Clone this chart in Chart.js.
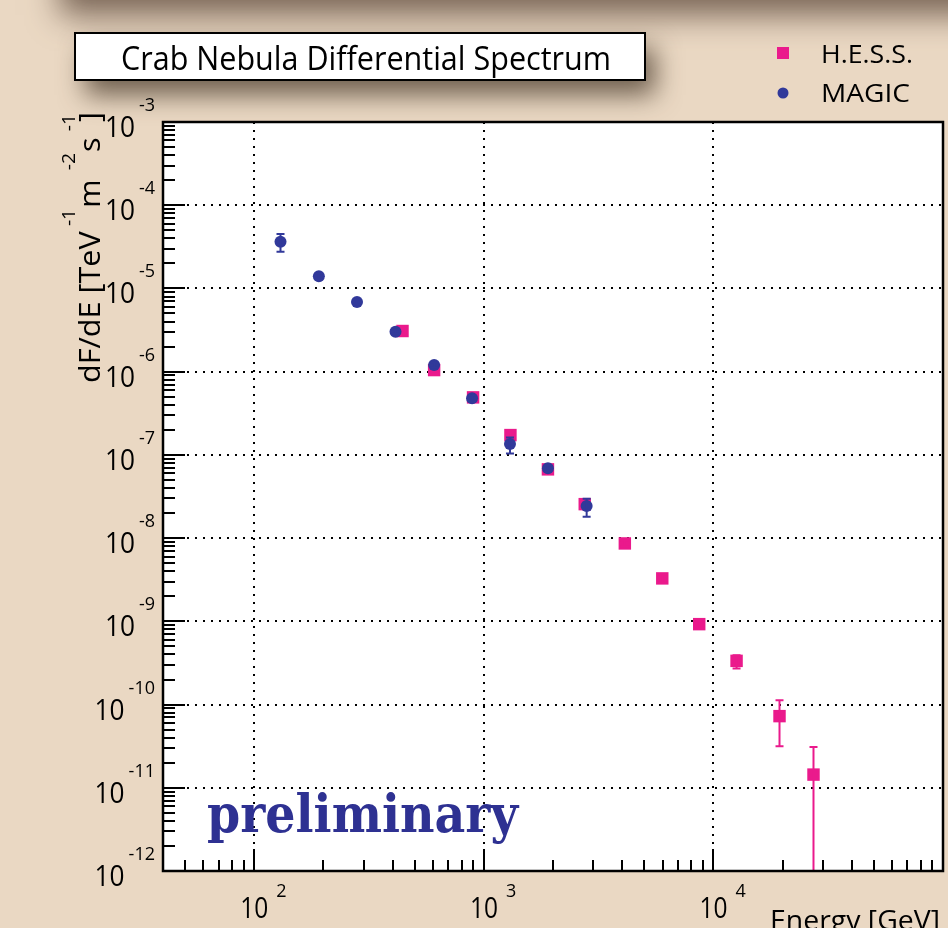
<!DOCTYPE html>
<html lang="en">
<head>
<meta charset="UTF-8">
<title>Crab Nebula Differential Spectrum</title>
<style>
    html, body { margin: 0; padding: 0; background: #ead8c3; }
    canvas { display: block; }
</style>
</head>
<body>
<canvas id="chart" width="948" height="928"></canvas>

<script src="https://cdn.jsdelivr.net/npm/chart.js"></script>
<script>
// H.E.S.S. spectrum points (energy in GeV, flux in TeV^-1 m^-2 s^-1)
const hessEnergy = [442, 607, 897, 1305, 1901, 2750, 4111, 5985, 8670, 12610, 19400, 27280];
const hessFlux   = [3.08e-6, 1.045e-6, 4.91e-7, 1.73e-7, 6.70e-8, 2.56e-8, 8.63e-9, 3.28e-9, 9.25e-10, 3.35e-10, 7.26e-11, 1.44e-11];
const hessLow    = [2.95e-6, 1.00e-6, 4.68e-7, 1.63e-7, 6.25e-8, 2.36e-8, 7.90e-9, 2.95e-9, 8.20e-10, 2.72e-10, 3.16e-11, 1e-14];
const hessHigh   = [3.21e-6, 1.09e-6, 5.14e-7, 1.83e-7, 7.15e-8, 2.76e-8, 9.40e-9, 3.62e-9, 1.03e-9, 3.90e-10, 1.13e-10, 3.10e-11];

// MAGIC spectrum points
const magicEnergy = [130, 191, 280, 412, 607, 888, 1299, 1901, 2803];
const magicFlux   = [3.64e-5, 1.397e-5, 6.86e-6, 3.02e-6, 1.20e-6, 4.78e-7, 1.35e-7, 6.89e-8, 2.43e-8];
const magicLow    = [2.76e-5, 1.30e-5, 6.45e-6, 2.85e-6, 1.12e-6, 4.45e-7, 1.04e-7, 6.40e-8, 1.80e-8];
const magicHigh   = [4.51e-5, 1.50e-5, 7.30e-6, 3.20e-6, 1.29e-6, 5.12e-7, 1.62e-7, 7.40e-8, 2.97e-8];

// axis ranges
const xRange = [40, 1e5];
const yRange = [1e-12, 1e-3];
const xLabelExp = [2, 3, 4];
const yLabelExp = [-3, -4, -5, -6, -7, -8, -9, -10, -11, -12];

const pink = '#ea1a8c';
const blue = '#31399a';
const beige = '#ead8c3';
const sans = '"Open Sans", "Noto Sans", sans-serif';

function isDecade(v) {
    const l = Math.log10(v);
    return Math.abs(l - Math.round(l)) < 1e-9;
}

function makeLogTicks(min, max) {
    const out = [];
    for (let e = Math.floor(Math.log10(min)); e <= Math.ceil(Math.log10(max)); e++) {
        for (let m = 1; m <= 9; m++) {
            const v = m * Math.pow(10, e);
            if (v >= min * 0.999999 && v <= max * 1.000001) out.push({ value: v, major: m === 1 });
        }
    }
    return out;
}

// draw text squeezed/stretched horizontally to a given width
function fitText(ctx, text, x, y, width, align) {
    const w = ctx.measureText(text).width;
    ctx.save();
    ctx.translate(x, y);
    ctx.scale(width / w, 1);
    ctx.textAlign = align;
    ctx.fillText(text, 0, 0);
    ctx.restore();
}

const errorSets = [
    { x: magicEnergy, low: magicLow, high: magicHigh, color: blue },
    { x: hessEnergy, low: hessLow, high: hessHigh, color: pink }
];

const decor = {
    id: 'decor',
    beforeDraw(chart) {
        const ctx = chart.ctx;
        const a = chart.chartArea;
        ctx.save();
        ctx.fillStyle = beige;
        ctx.fillRect(0, 0, chart.width, chart.height);

        // shaded band along the top edge
        ctx.save();
        ctx.shadowColor = 'rgba(115, 95, 80, 0.95)';
        ctx.shadowBlur = 30;
        ctx.shadowOffsetY = 15;
        ctx.fillStyle = beige;
        ctx.fillRect(60, -100, 1000, 100);
        ctx.restore();

        // title box with drop shadow
        ctx.save();
        ctx.shadowColor = 'rgba(70, 55, 40, 0.75)';
        ctx.shadowBlur = 26;
        ctx.shadowOffsetX = 10;
        ctx.shadowOffsetY = 15;
        ctx.fillStyle = '#fff';
        ctx.fillRect(75, 33, 570, 47);
        ctx.restore();
        ctx.lineWidth = 2;
        ctx.strokeStyle = '#000';
        ctx.strokeRect(75, 33, 570, 47);
        ctx.fillStyle = '#000';
        ctx.font = '33px ' + sans;
        fitText(ctx, 'Crab Nebula Differential Spectrum', 366, 70, 490, 'center');

        // legend
        ctx.fillStyle = pink;
        ctx.fillRect(777, 47, 12, 12);
        ctx.fillStyle = blue;
        ctx.beginPath();
        ctx.arc(783, 93, 5.5, 0, Math.PI * 2);
        ctx.fill();
        ctx.fillStyle = '#000';
        ctx.font = '26px ' + sans;
        fitText(ctx, 'H.E.S.S.', 821, 63, 92, 'left');
        fitText(ctx, 'MAGIC', 821, 102, 89, 'left');

        // plot background
        ctx.fillStyle = '#fff';
        ctx.fillRect(a.left, a.top, a.right - a.left, a.bottom - a.top);
        ctx.restore();
    },
    afterDatasetDraw(chart, args) {
        const set = errorSets[args.index];
        const ctx = chart.ctx;
        const a = chart.chartArea;
        const xs = chart.scales.x, ys = chart.scales.y;
        ctx.save();
        ctx.beginPath();
        ctx.rect(a.left, a.top, a.right - a.left, a.bottom - a.top);
        ctx.clip();
        ctx.strokeStyle = set.color;
        ctx.lineWidth = 2;
        set.x.forEach((e, i) => {
            const px = xs.getPixelForValue(e);
            const y1 = ys.getPixelForValue(set.low[i]);
            const y2 = ys.getPixelForValue(set.high[i]);
            ctx.beginPath();
            ctx.moveTo(px, y1); ctx.lineTo(px, y2);
            ctx.moveTo(px - 4, y1); ctx.lineTo(px + 4, y1);
            ctx.moveTo(px - 4, y2); ctx.lineTo(px + 4, y2);
            ctx.stroke();
        });
        ctx.restore();
    },
    afterDraw(chart) {
        const ctx = chart.ctx;
        const a = chart.chartArea;
        const xs = chart.scales.x, ys = chart.scales.y;
        ctx.save();

        // tick marks pointing into the frame
        ctx.strokeStyle = '#000';
        ctx.lineWidth = 2;
        ctx.beginPath();
        xs.ticks.forEach(t => {
            const px = Math.round(xs.getPixelForValue(t.value));
            const len = isDecade(t.value) ? 22 : 11;
            ctx.moveTo(px, a.bottom); ctx.lineTo(px, a.bottom - len);
        });
        ys.ticks.forEach(t => {
            const py = Math.round(ys.getPixelForValue(t.value));
            const len = isDecade(t.value) ? 22 : 12;
            ctx.moveTo(a.left, py); ctx.lineTo(a.left + len, py);
        });
        ctx.stroke();

        // frame
        ctx.lineWidth = 2.5;
        ctx.strokeRect(a.left, a.top, a.right - a.left, a.bottom - a.top);

        // y tick labels: 10 with exponent
        ctx.fillStyle = '#000';
        yLabelExp.forEach(e => {
            const py = ys.getPixelForValue(Math.pow(10, e));
            const ex = String(e);
            ctx.font = '18px ' + sans;
            ctx.textAlign = 'right';
            ctx.fillText(ex, 155, py - 11);
            const exW = ctx.measureText(ex).width;
            ctx.font = '29px ' + sans;
            fitText(ctx, '10', 155 - exW - 4, py + 15, 30, 'right');
        });

        // x tick labels
        xLabelExp.forEach(e => {
            const px = xs.getPixelForValue(Math.pow(10, e));
            ctx.font = '29px ' + sans;
            fitText(ctx, '10', px, 918, 28, 'center');
            ctx.font = '18px ' + sans;
            ctx.textAlign = 'left';
            ctx.fillText(String(e), px + 22, 897);
        });

        // x axis title
        ctx.font = '28px ' + sans;
        fitText(ctx, 'Energy [GeV]', 940, 930, 170, 'right');

        // y axis title, rotated, with superscripts: [text, superscript?, gap before]
        const parts = [
            ['dF/dE [TeV', false, 0], ['-1', true, 5], ['m', false, 1], ['-2', true, 9],
            ['s', false, 1], ['-1', true, 6], [']', false, -8]
        ];
        const mainFont = '30px ' + sans, supFont = '19px ' + sans;
        let total = 0;
        parts.forEach(p => { ctx.font = p[1] ? supFont : mainFont; total += ctx.measureText(p[0]).width + p[2]; });
        const k = 271 / total;
        ctx.save();
        ctx.translate(100, 383);
        ctx.rotate(-Math.PI / 2);
        ctx.scale(k, 1);
        ctx.textAlign = 'left';
        let cx = 0;
        parts.forEach(p => {
            ctx.font = p[1] ? supFont : mainFont;
            cx += p[2];
            ctx.fillText(p[0], cx, p[1] ? -25 : 0);
            cx += ctx.measureText(p[0]).width;
        });
        ctx.restore();

        // preliminary stamp
        ctx.fillStyle = '#2e3192';
        ctx.font = 'bold 52px "DejaVu Serif", "Liberation Serif", serif';
        fitText(ctx, 'preliminary', 207, 832, 311, 'left');

        ctx.restore();
    }
};

const logGrid = {
    drawTicks: false,
    lineWidth: 2,
    color: c => (c.tick && isDecade(c.tick.value)) ? '#000' : 'rgba(0,0,0,0)'
};

new Chart(document.getElementById('chart'), {
    type: 'scatter',
    data: {
        datasets: [
            {
                label: 'MAGIC',
                data: magicEnergy.map((e, i) => ({ x: e, y: magicFlux[i] })),
                pointStyle: 'circle',
                pointRadius: 6,
                backgroundColor: blue,
                borderColor: blue,
                borderWidth: 0,
                order: 0
            },
            {
                label: 'H.E.S.S.',
                data: hessEnergy.map((e, i) => ({ x: e, y: hessFlux[i] })),
                pointStyle: 'rect',
                pointRadius: 8.8,
                backgroundColor: pink,
                borderColor: pink,
                borderWidth: 0,
                order: 1
            }
        ]
    },
    options: {
        responsive: false,
        animation: false,
        devicePixelRatio: 1,
        events: [],
        layout: { autoPadding: false, padding: { top: 122, right: 5, left: 0, bottom: 0 } },
        plugins: { legend: { display: false }, tooltip: { enabled: false } },
        scales: {
            x: {
                type: 'logarithmic',
                min: xRange[0],
                max: xRange[1],
                afterBuildTicks: s => { s.ticks = makeLogTicks(xRange[0], xRange[1]); },
                afterFit: s => { s.height = 57; },
                ticks: { display: false },
                grid: logGrid,
                border: { display: false, dash: [2, 6] }
            },
            y: {
                type: 'logarithmic',
                min: yRange[0],
                max: yRange[1],
                afterBuildTicks: s => { s.ticks = makeLogTicks(yRange[0], yRange[1]); },
                afterFit: s => { s.width = 163; },
                ticks: { display: false },
                grid: logGrid,
                border: { display: false, dash: [2, 6] }
            }
        }
    },
    plugins: [decor]
});
</script>
</body>
</html>
